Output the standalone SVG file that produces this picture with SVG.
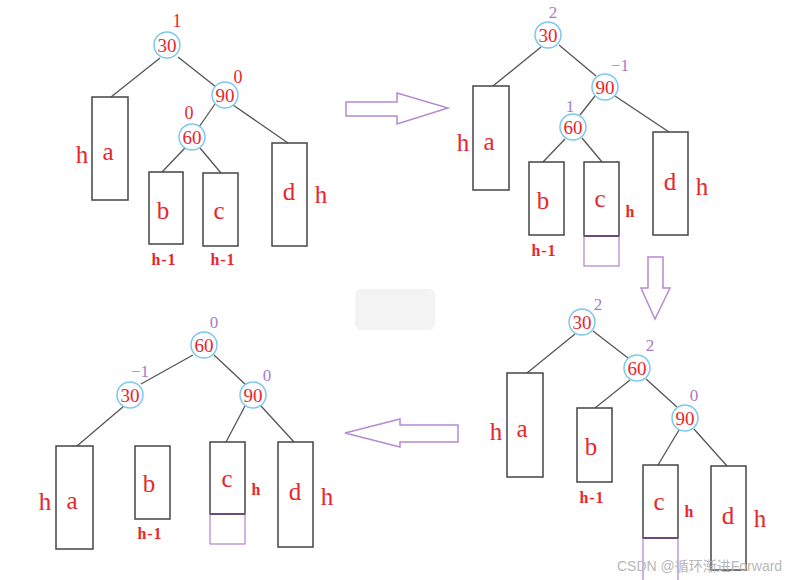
<svg xmlns="http://www.w3.org/2000/svg" width="787" height="580" viewBox="0 0 787 580">
<style>
.bg{fill:#ffffff}
.node{fill:#ffffff;stroke:#7cc8ee;stroke-width:1.5}
.val{font-family:"Liberation Serif",serif;font-size:19px;fill:#e8262c;text-anchor:middle;dominant-baseline:central}
.box{fill:none;stroke:#444;stroke-width:1.5}
.ext{fill:none;stroke:#b58bd0;stroke-width:1.3}
.let{font-family:"Liberation Serif",serif;font-size:25px;fill:#e8262c;text-anchor:middle;dominant-baseline:central}
.hb{font-family:"Liberation Serif",serif;font-size:25px;fill:#e8262c;text-anchor:middle;dominant-baseline:central}
.hs{font-family:"Liberation Serif",serif;font-size:16px;font-weight:bold;fill:#e8262c;text-anchor:middle;dominant-baseline:central;letter-spacing:1px}
.hm{font-family:"Liberation Serif",serif;font-size:16px;font-weight:bold;fill:#e8262c;text-anchor:middle;dominant-baseline:central}
.bal{font-family:"Liberation Serif",serif;font-size:18px;fill:#e8262c;text-anchor:middle;dominant-baseline:central}
.balp{font-family:"Liberation Serif",serif;font-size:17px;fill:#a77cc8;text-anchor:middle;dominant-baseline:central}
.edge{stroke:#555;stroke-width:1.3;fill:none}
.arrow{fill:#ffffff;stroke:#b58bd0;stroke-width:1.5}
.wm{font-family:"Liberation Sans","Noto Sans CJK SC",sans-serif;font-size:14px;fill:#b8b8b8}
</style>
<rect class="bg" x="0" y="0" width="787" height="580"/>

<g id="connectors">
  <!-- tree 1 -->
  <line class="edge" x1="160" y1="58" x2="111" y2="97"/>
  <line class="edge" x1="178" y1="57" x2="216" y2="87"/>
  <line class="edge" x1="215" y1="104" x2="199" y2="127"/>
  <line class="edge" x1="233" y1="105" x2="288" y2="143"/>
  <line class="edge" x1="185" y1="148" x2="162" y2="172"/>
  <line class="edge" x1="200" y1="148" x2="221" y2="173"/>
  <!-- tree 2 -->
  <line class="edge" x1="541" y1="47" x2="493" y2="86"/>
  <line class="edge" x1="559" y1="45" x2="596" y2="76"/>
  <line class="edge" x1="595" y1="96" x2="580" y2="115"/>
  <line class="edge" x1="615" y1="96" x2="669" y2="132"/>
  <line class="edge" x1="565" y1="139" x2="543" y2="162"/>
  <line class="edge" x1="582" y1="138" x2="602" y2="162"/>
  <!-- tree 3 -->
  <line class="edge" x1="575" y1="334" x2="527" y2="373"/>
  <line class="edge" x1="593" y1="331" x2="628" y2="358"/>
  <line class="edge" x1="630" y1="380" x2="595" y2="408"/>
  <line class="edge" x1="646" y1="379" x2="677" y2="407"/>
  <line class="edge" x1="679" y1="430" x2="658" y2="465"/>
  <line class="edge" x1="694" y1="429" x2="727" y2="466"/>
  <!-- tree 4 -->
  <line class="edge" x1="193" y1="355" x2="141" y2="384"/>
  <line class="edge" x1="214" y1="355" x2="246" y2="385"/>
  <line class="edge" x1="124" y1="406" x2="77" y2="446"/>
  <line class="edge" x1="245" y1="406" x2="226" y2="442"/>
  <line class="edge" x1="261" y1="406" x2="294" y2="442"/>
</g>

<g id="arrows">
  <polygon class="arrow" points="346,102 397,102 397,93 448,108 397,124 397,116 346,116"/>
  <polygon class="arrow" points="648,257 663,257 663,288 670,288 655,319 641,288 648,288"/>
  <polygon class="arrow" points="458,425 400,425 400,419 345,433 400,447 400,442 458,442"/>
</g>

<rect x="355" y="289" width="80" height="41" rx="6" fill="#f3f3f3"/>

<!-- Tree 1 -->
<g id="t1-n30"><circle class="node" cx="167" cy="45" r="13"/><text class="val" x="167" y="45">30</text><text class="bal" x="177" y="21">1</text></g>
<g id="t1-n90"><circle class="node" cx="225" cy="95" r="13"/><text class="val" x="225" y="95">90</text><text class="bal" x="238" y="77">0</text></g>
<g id="t1-n60"><circle class="node" cx="192" cy="137" r="13"/><text class="val" x="192" y="137">60</text><text class="bal" x="189" y="113">0</text></g>
<g id="t1-a"><rect class="box" x="92" y="97" width="36" height="103"/><text class="let" x="108" y="151">a</text><text class="hb" x="82" y="154">h</text></g>
<g id="t1-b"><rect class="box" x="149" y="172" width="34" height="72"/><text class="let" x="163" y="210">b</text><text class="hs" x="164" y="259">h-1</text></g>
<g id="t1-c"><rect class="box" x="203" y="173" width="35" height="73"/><text class="let" x="219" y="210">c</text><text class="hs" x="223" y="259">h-1</text></g>
<g id="t1-d"><rect class="box" x="272" y="143" width="35" height="103"/><text class="let" x="289" y="191">d</text><text class="hb" x="321" y="194">h</text></g>

<!-- Tree 2 -->
<g id="t2-n30"><circle class="node" cx="548" cy="35" r="13"/><text class="val" x="548" y="35">30</text><text class="balp" x="553" y="12">2</text></g>
<g id="t2-n90"><circle class="node" cx="605" cy="87" r="13"/><text class="val" x="605" y="87">90</text><text class="balp" x="620" y="65">−1</text></g>
<g id="t2-n60"><circle class="node" cx="573" cy="127" r="13"/><text class="val" x="573" y="127">60</text><text class="balp" x="570" y="106">1</text></g>
<g id="t2-a"><rect class="box" x="473" y="86" width="36" height="104"/><text class="let" x="489" y="141">a</text><text class="hb" x="463" y="142">h</text></g>
<g id="t2-b"><rect class="box" x="529" y="162" width="35" height="73"/><text class="let" x="543" y="200">b</text><text class="hs" x="544" y="250">h-1</text></g>
<g id="t2-c"><rect class="box" x="584" y="162" width="35" height="74"/><rect class="ext" x="584" y="236" width="35" height="30"/><line x1="584" y1="236" x2="619" y2="236" stroke="#6a4a7a" stroke-width="2"/><text class="let" x="600" y="198">c</text><text class="hm" x="630" y="211">h</text></g>
<g id="t2-d"><rect class="box" x="653" y="132" width="35" height="103"/><text class="let" x="670" y="181">d</text><text class="hb" x="702" y="186">h</text></g>

<!-- Tree 3 -->
<g id="t3-n30"><circle class="node" cx="582" cy="322" r="13"/><text class="val" x="582" y="322">30</text><text class="balp" x="598" y="304">2</text></g>
<g id="t3-n60"><circle class="node" cx="637" cy="368" r="13"/><text class="val" x="637" y="368">60</text><text class="balp" x="650" y="345">2</text></g>
<g id="t3-n90"><circle class="node" cx="685" cy="418" r="13"/><text class="val" x="685" y="418">90</text><text class="balp" x="694" y="395">0</text></g>
<g id="t3-a"><rect class="box" x="507" y="373" width="36" height="104"/><text class="let" x="522" y="428">a</text><text class="hb" x="496" y="431">h</text></g>
<g id="t3-b"><rect class="box" x="577" y="408" width="35" height="74"/><text class="let" x="591" y="446">b</text><text class="hs" x="592" y="497">h-1</text></g>
<g id="t3-c"><rect class="box" x="643" y="465" width="35" height="73"/><line class="ext" x1="643" y1="538" x2="643" y2="580"/><line class="ext" x1="678" y1="538" x2="678" y2="580"/><line x1="643" y1="538" x2="678" y2="538" stroke="#6a4a7a" stroke-width="2"/><text class="let" x="659" y="501">c</text><text class="hm" x="689" y="511">h</text></g>
<g id="t3-d"><rect class="box" x="711" y="466" width="35" height="104"/><text class="let" x="728" y="515">d</text><text class="hb" x="760" y="518">h</text></g>

<!-- Tree 4 -->
<g id="t4-n60"><circle class="node" cx="204" cy="345" r="13"/><text class="val" x="204" y="345">60</text><text class="balp" x="214" y="322">0</text></g>
<g id="t4-n30"><circle class="node" cx="130" cy="395" r="13"/><text class="val" x="130" y="395">30</text><text class="balp" x="140" y="371">−1</text></g>
<g id="t4-n90"><circle class="node" cx="253" cy="395" r="13"/><text class="val" x="253" y="395">90</text><text class="balp" x="267" y="375">0</text></g>
<g id="t4-a"><rect class="box" x="56" y="446" width="37" height="103"/><text class="let" x="72" y="500">a</text><text class="hb" x="45" y="501">h</text></g>
<g id="t4-b"><rect class="box" x="135" y="446" width="35" height="73"/><text class="let" x="149" y="483">b</text><text class="hs" x="150" y="533">h-1</text></g>
<g id="t4-c"><rect class="box" x="210" y="442" width="35" height="72"/><rect class="ext" x="210" y="514" width="35" height="30"/><line x1="210" y1="514" x2="245" y2="514" stroke="#6a4a7a" stroke-width="2"/><text class="let" x="227" y="478">c</text><text class="hm" x="256" y="489">h</text></g>
<g id="t4-d"><rect class="box" x="278" y="442" width="35" height="105"/><text class="let" x="295" y="491">d</text><text class="hb" x="327" y="496">h</text></g>

<text class="wm" x="617" y="571">CSDN @循环渐进Forward</text>
</svg>
